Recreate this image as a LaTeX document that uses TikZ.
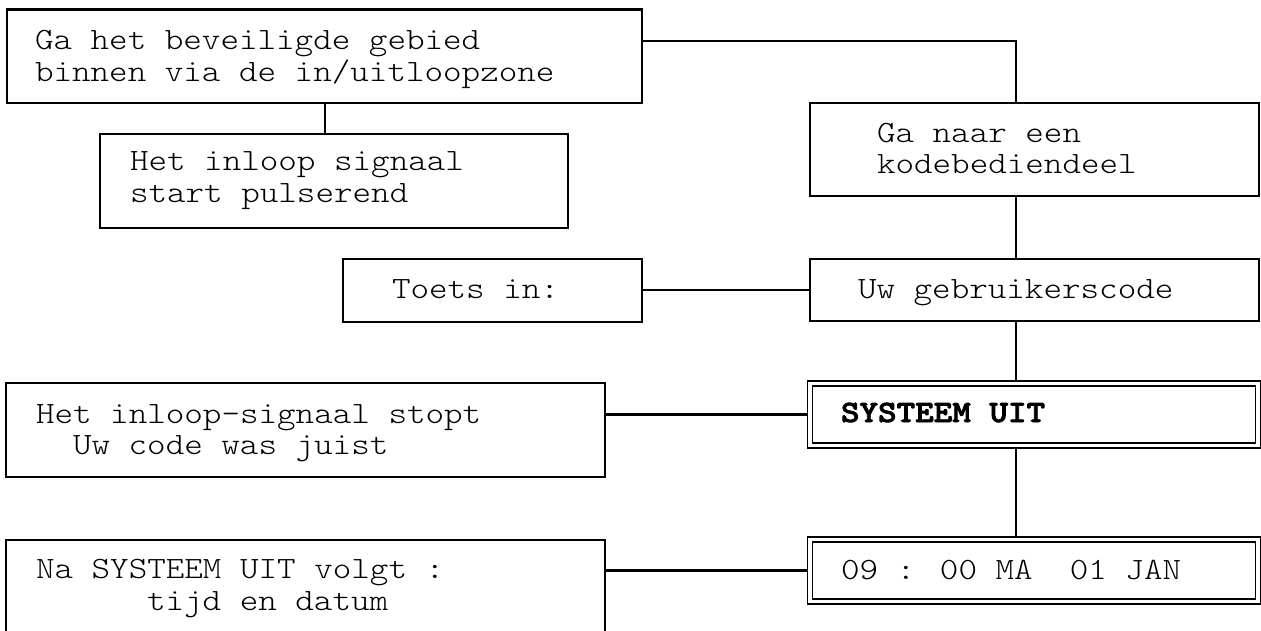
\documentclass[tikz,border=0pt]{standalone}
\usepackage{fontspec}
\newfontfamily\cour{lmmonolt10-regular.otf}[FakeStretch=1.14, BoldFont=lmmonolt10-bold.otf, BoldFeatures={FakeBold=2.5}]
\begin{document}
\begin{tikzpicture}[x=1pt,y=-1pt,
  box/.style={draw, line width=2.2pt, rectangle, inner sep=0pt, outer sep=0pt},
  dbox/.style={draw, rectangle, double, double distance=3.5pt, line width=1.5pt, inner sep=0pt, outer sep=3.25pt},
  txt/.style={anchor=base west, inner sep=0pt, outer sep=0pt, font=\cour\fontsize{31pt}{31pt}\selectfont},
  link/.style={line width=2.2pt, line join=miter}]
\useasboundingbox (0,0) rectangle (1261,630);
\clip (0,0) rectangle (1261,630);
\fill[white] (0,0) rectangle (1261,630);
% boxes
\node[box, minimum width=635pt, minimum height=93.5pt] (b1) at (324.5,56.25) {};
\node[box, minimum width=468pt, minimum height=94pt] (b3) at (334,181) {};
\node[box, minimum width=449pt, minimum height=93pt] (b2) at (1034.5,149.5) {};
\node[box, minimum width=299pt, minimum height=63pt] (b4) at (492.5,290.5) {};
\node[box, minimum width=449pt, minimum height=62pt] (b5) at (1034.5,290) {};
\node[box, minimum width=599pt, minimum height=94pt] (b6) at (305.5,430) {};
\node[dbox, minimum width=448.25pt, minimum height=62pt] (b7) at (1033.9,414.5) {};
\node[dbox, minimum width=448.25pt, minimum height=62pt] (b8) at (1033.9,570.5) {};
\node[box, minimum width=599pt, minimum height=160pt] (b9) at (305.5,620) {};
% texts
\node[txt] (t1a) at (35,49) {Ga het beveiligde gebied};
\node[txt] (t1b) at (35,81) {binnen via de in/uitloopzone};
\node[txt] (t3a) at (130,170) {Het inloop signaal};
\node[txt] (t3b) at (130,202) {start pulserend};
\node[txt] (t2a) at (877,142) {Ga naar een};
\node[txt] (t2b) at (877,173) {kodebediendeel};
\node[txt] (t4) at (392,298) {Toets in:};
\node[txt] (t5) at (858,298) {Uw gebruikerscode};
\node[txt] (t6a) at (36,423) {Het inloop-signaal stopt};
\node[txt] (t6b) at (73,454) {Uw code was juist};
\node[txt, font=\cour\bfseries\fontsize{31pt}{31pt}\selectfont] (t7) at (841,422) {SYSTEEM UIT};
\node[txt] (t8) at (841,579) {09 : 00 MA\ \ 01 JAN};
\node[txt] (t9a) at (36,578) {Na SYSTEEM UIT volgt :};
\node[txt] (t9b) at (147,610) {tijd en datum};
% connectors
\coordinate (vx) at (1016,0);
\coordinate (hy) at (0,41);
\draw[link] (b1.east |- hy) -| (b2.north -| vx);
\draw[link] (b1.south -| 325,0) -- (b3.north -| 325,0);
\draw[link] (b2.south -| vx) -- (b5.north -| vx);
\draw[link] (b4.east |- b5.west) -- (b5.west);
\draw[link] (b5.south -| vx) -- (b7.north -| vx);
\draw[link] (b6.east |- b7.west) -- (b7.west);
\draw[link] (b7.south -| vx) -- (b8.north -| vx);
\draw[link] (b9.east |- b8.west) -- (b8.west);
\end{tikzpicture}
\end{document}
